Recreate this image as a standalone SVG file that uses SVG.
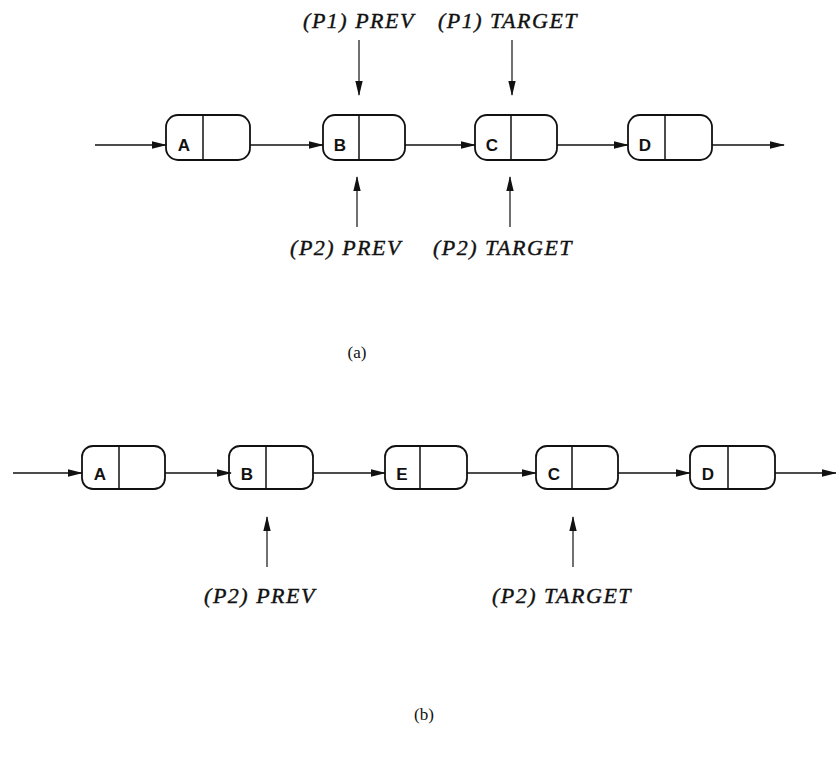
<svg xmlns="http://www.w3.org/2000/svg" width="836" height="763" viewBox="0 0 836 763">
<defs>
<marker id="ah" markerWidth="15" markerHeight="9" refX="14" refY="4.5" orient="auto" markerUnits="userSpaceOnUse">
<path d="M0,0.8 L15,4.5 L0,8.2 Z" fill="#111"/>
</marker>
<style>
.nd{fill:#fff;stroke:#111;stroke-width:1.8}
.dv{stroke:#111;stroke-width:1.5}
.lt{font-family:"Liberation Sans",Arial,sans-serif;font-size:17px;font-weight:bold;fill:#111;text-anchor:middle}
.lb{font-family:"Liberation Serif","Times New Roman",serif;font-style:italic;font-size:22px;letter-spacing:1.5px;fill:#111;stroke:#111;stroke-width:0.4;text-anchor:middle}
.cap{font-family:"Liberation Serif","Times New Roman",serif;font-size:17px;fill:#111;text-anchor:middle}
.cn{stroke:#111;stroke-width:1.6;fill:none;marker-end:url(#ah)}
.pt{stroke:#111;stroke-width:1.2;fill:none;marker-end:url(#ah)}
</style>
</defs>
<rect width="836" height="763" fill="#fff"/>

<g id="a-A"><rect class="nd" x="166" y="115" width="84" height="45" rx="12"/><line class="dv" x1="203" y1="115" x2="203" y2="160"/><text class="lt" x="184" y="151">A</text></g>
<g id="a-B"><rect class="nd" x="323" y="115" width="82" height="45" rx="12"/><line class="dv" x1="359" y1="115" x2="359" y2="160"/><text class="lt" x="340" y="151">B</text></g>
<g id="a-C"><rect class="nd" x="475" y="115" width="82" height="45" rx="12"/><line class="dv" x1="511" y1="115" x2="511" y2="160"/><text class="lt" x="492" y="151">C</text></g>
<g id="a-D"><rect class="nd" x="628" y="115" width="84" height="45" rx="12"/><line class="dv" x1="665" y1="115" x2="665" y2="160"/><text class="lt" x="645" y="151">D</text></g>

<g id="b-A"><rect class="nd" x="82" y="446" width="83" height="43" rx="11"/><line class="dv" x1="119" y1="446" x2="119" y2="489"/><text class="lt" x="100" y="480">A</text></g>
<g id="b-B"><rect class="nd" x="229" y="446" width="84" height="43" rx="11"/><line class="dv" x1="266" y1="446" x2="266" y2="489"/><text class="lt" x="247" y="480">B</text></g>
<g id="b-E"><rect class="nd" x="385" y="446" width="82" height="43" rx="11"/><line class="dv" x1="420" y1="446" x2="420" y2="489"/><text class="lt" x="402" y="480">E</text></g>
<g id="b-C"><rect class="nd" x="536" y="446" width="82" height="43" rx="11"/><line class="dv" x1="572" y1="446" x2="572" y2="489"/><text class="lt" x="554" y="480">C</text></g>
<g id="b-D"><rect class="nd" x="690" y="446" width="85" height="43" rx="11"/><line class="dv" x1="728" y1="446" x2="728" y2="489"/><text class="lt" x="708" y="480">D</text></g>

<g id="connectors">
<line class="cn" x1="95" y1="145" x2="166" y2="145"/>
<line class="cn" x1="250" y1="145" x2="323" y2="145"/>
<line class="cn" x1="405" y1="145" x2="475" y2="145"/>
<line class="cn" x1="557" y1="145" x2="628" y2="145"/>
<line class="cn" x1="712" y1="145" x2="784" y2="145"/>
<line class="pt" x1="359" y1="40" x2="359" y2="95"/>
<line class="pt" x1="512" y1="40" x2="512" y2="95"/>
<line class="pt" x1="357" y1="227" x2="357" y2="177"/>
<line class="pt" x1="510" y1="227" x2="510" y2="177"/>

<line class="cn" x1="13" y1="473" x2="82" y2="473"/>
<line class="cn" x1="165" y1="473" x2="231" y2="473"/>
<line class="cn" x1="313" y1="473" x2="385" y2="473"/>
<line class="cn" x1="467" y1="473" x2="536" y2="473"/>
<line class="cn" x1="618" y1="473" x2="690" y2="473"/>
<line class="cn" x1="775" y1="473" x2="836" y2="473"/>
<line class="pt" x1="267" y1="567" x2="267" y2="517"/>
<line class="pt" x1="573" y1="567" x2="573" y2="517"/>
</g>

<g id="labels">
<text class="lb" x="359" y="28">(P1) PREV</text>
<text class="lb" x="508" y="28">(P1) TARGET</text>
<text class="lb" x="346" y="255">(P2) PREV</text>
<text class="lb" x="503" y="255">(P2) TARGET</text>
<text class="cap" x="357" y="358">(a)</text>
<text class="lb" x="260" y="603">(P2) PREV</text>
<text class="lb" x="562" y="603">(P2) TARGET</text>
<text class="cap" x="424" y="720">(b)</text>
</g>
</svg>
